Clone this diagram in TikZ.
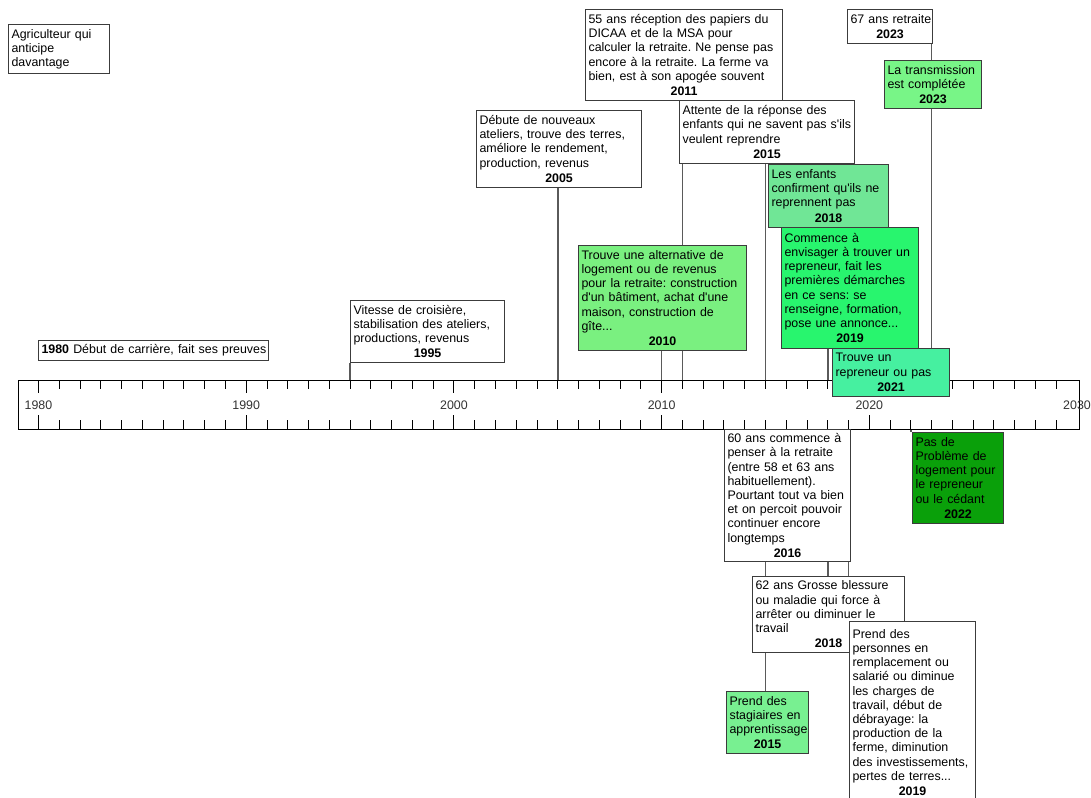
\documentclass[tikz,border=0pt]{standalone}
\usepackage{fontspec}
\setmainfont{Liberation Sans}[Ligatures=TeXOff]
\frenchspacing
\definecolor{boxc}{HTML}{3C3C3C}
\definecolor{stemc}{HTML}{5A5A5A}
\definecolor{cA}{HTML}{7AF080}
\definecolor{cB}{HTML}{70E696}
\definecolor{cC}{HTML}{28F56E}
\definecolor{cD}{HTML}{46F0A0}
\definecolor{cE}{HTML}{78F587}
\definecolor{cF}{HTML}{0AA00A}
\definecolor{cG}{HTML}{78F091}
\pgfdeclarelayer{back}
\pgfdeclarelayer{bg}
\pgfsetlayers{back,bg,main}
\tikzset{
  evb/.style={draw=boxc,line width=1.1pt,fill=white,inner xsep=3pt,inner ysep=3pt,
    align=left,anchor=north west,font=\fontsize{12.4}{14.2}\selectfont\frenchspacing},
  stem/.style={draw=stemc,line width=1.6pt},
  tickln/.style={draw=black,line width=0.9pt},
  axlab/.style={font=\fontsize{12.4}{14.2}\selectfont,text=black!80},
}
\newcommand\EvBox[8]{%
  \pgfmathsetmacro\evW{#4-#2}\pgfmathsetmacro\evH{#5-#3}\pgfmathsetmacro\evT{#4-#2-6}%
  \node[evb,#6,minimum width=\evW pt,minimum height=\evH pt,text width=\evT pt] (#1) at (#2,#3)
   {#7\par\vspace{1.2pt}{\centering\bfseries #8\par}};}
\newcommand\PlBox[7]{%
  \pgfmathsetmacro\evW{#4-#2}\pgfmathsetmacro\evH{#5-#3}\pgfmathsetmacro\evT{#4-#2-6}%
  \node[evb,#6,minimum width=\evW pt,minimum height=\evH pt,text width=\evT pt] (#1) at (#2,#3) {#7};}
\begin{document}
\begin{tikzpicture}[x=1pt,y=-1pt]
\begin{pgfonlayer}{back}\fill[white] (0,0) rectangle (1091,797);\end{pgfonlayer}
\useasboundingbox (0,0) rectangle (1091,797);
% axis
\node[draw=black,line width=0.9pt,minimum width=1061pt,minimum height=49pt,inner sep=0pt,anchor=north west] (axis) at (18,380) {};
\foreach \i in {0,...,49}{%
  \pgfmathsetmacro\xx{38.5+20.77*\i}%
  \pgfmathtruncatemacro\mm{mod(\i,10)}%
  \ifnum\mm=0
    \draw[tickln] (\xx,380) -- (\xx,393) (\xx,429) -- (\xx,415);
  \else
    \draw[tickln] (\xx,380) -- (\xx,389) (\xx,429) -- (\xx,420);
  \fi}
\foreach \yr [count=\k from 0] in {1980,1990,2000,2010,2020,2030}
  \node[axlab] (lab\yr) at ({38.5+207.7*\k},405) {\yr};
% year coordinates on the axis
\foreach \yr in {1995,2005,2010,2011,2015,2018,2019,2021,2022,2023}{%
  \coordinate (a\yr) at ({38.5+20.77*(\yr-1980)},380);
  \coordinate (b\yr) at ({38.5+20.77*(\yr-1980)},429);}
% boxes above
\PlBox{agr}{8}{24}{109}{73}{}{\mbox{Agriculteur qui}\\\mbox{anticipe}\\\mbox{davantage}}
\PlBox{e1980}{38}{340}{268}{360}{}{\mbox{\textbf{1980} Début de carrière, fait ses preuves}}
\EvBox{e1995}{350}{300}{504}{362}{}{\mbox{Vitesse de croisière,}\\\mbox{stabilisation des ateliers,}\\\mbox{productions, revenus}}{1995}
\EvBox{e2005}{476}{110}{641}{187}{}{\mbox{Débute de nouveaux}\\\mbox{ateliers, trouve des terres,}\\\mbox{améliore le rendement,}\\\mbox{production, revenus}}{2005}
\EvBox{e2011}{585}{9}{782}{100}{}{\mbox{55 ans réception des papiers du}\\\mbox{DICAA et de la MSA pour}\\\mbox{calculer la retraite. Ne pense pas}\\\mbox{encore à la retraite. La ferme va}\\\mbox{bien, est à son apogée souvent}}{2011}
\EvBox{e2015a}{679}{100}{854}{163}{}{\mbox{Attente de la réponse des}\\\mbox{enfants qui ne savent pas s'ils}\\\mbox{veulent reprendre}}{2015}
\EvBox{e2010}{578}{245}{746}{350}{fill=cA}{\mbox{Trouve une alternative de}\\\mbox{logement ou de revenus}\\\mbox{pour la retraite: construction}\\\mbox{d'un bâtiment, achat d'une}\\\mbox{maison, construction de}\\\mbox{gîte...}}{2010}
\EvBox{e2018a}{768}{164}{888}{227}{fill=cB}{\mbox{Les enfants}\\\mbox{confirment qu'ils ne}\\\mbox{reprennent pas}}{2018}
\EvBox{e2019a}{781}{227}{918}{348}{fill=cC}{\mbox{Commence à}\\\mbox{envisager à trouver un}\\\mbox{repreneur, fait les}\\\mbox{premières démarches}\\\mbox{en ce sens: se}\\\mbox{renseigne, formation,}\\\mbox{pose une annonce...}}{2019}
\EvBox{e2021}{832}{348}{949}{396}{fill=cD}{\mbox{Trouve un}\\\mbox{repreneur ou pas}}{2021}
\EvBox{e2023a}{847}{9}{932}{43}{}{\mbox{67 ans retraite}}{2023}
\EvBox{e2023b}{884}{60}{981}{108}{fill=cE}{\mbox{La transmission}\\\mbox{est complétée}}{2023}
% boxes below
\EvBox{e2016}{724}{429}{850}{561}{}{\mbox{60 ans commence à}\\\mbox{penser à la retraite}\\\mbox{(entre 58 et 63 ans}\\\mbox{habituellement).}\\\mbox{Pourtant tout va bien}\\\mbox{et on percoit pouvoir}\\\mbox{continuer encore}\\\mbox{longtemps}}{2016}
\EvBox{e2022}{912}{432}{1003}{523}{fill=cF}{\mbox{Pas de}\\\mbox{Problème de}\\\mbox{logement pour}\\\mbox{le repreneur}\\\mbox{ou le cédant}}{2022}
\EvBox{e2018b}{752}{576}{904}{652}{}{\mbox{62 ans Grosse blessure}\\\mbox{ou maladie qui force à}\\\mbox{arrêter ou diminuer le}\\\mbox{travail}}{2018}
\EvBox{e2015b}{726}{691}{808}{753}{fill=cG}{\mbox{Prend des}\\\mbox{stagiaires en}\\\mbox{apprentissage}}{2015}
\EvBox{e2019b}{849}{621}{975}{803}{}{\mbox{Prend des}\\\mbox{personnes en}\\\mbox{remplacement ou}\\\mbox{salarié ou diminue}\\\mbox{les charges de}\\\mbox{travail, début de}\\\mbox{débrayage: la}\\\mbox{production de la}\\\mbox{ferme, diminution}\\\mbox{des investissements,}\\\mbox{pertes de terres...}}{2019}
% stems
\begin{pgfonlayer}{bg}
\draw[stem] (a1995) -- (a1995 |- e1995.south);
\draw[stem] (a2005) -- (a2005 |- e2005.south);
\draw[stem] (a2010) -- (a2010 |- e2010.south);
\draw[stem] (a2011) -- (a2011 |- e2011.south);
\draw[stem] (a2015) -- (a2015 |- e2015a.south);
\draw[stem] (a2018) -- (a2018 |- e2018a.south);
\draw[stem] (a2019) -- (a2019 |- e2019a.south);
\draw[stem] (a2023) -- (a2023 |- e2023a.south);
\draw[stem] (b2015) -- (b2015 |- e2015b.north);
\draw[stem] (b2018) -- (b2018 |- e2018b.north);
\draw[stem] (b2019) -- (b2019 |- e2019b.north);
\draw[stem] (b2022) -- (b2022 |- e2022.north);
\end{pgfonlayer}
\end{tikzpicture}
\end{document}
